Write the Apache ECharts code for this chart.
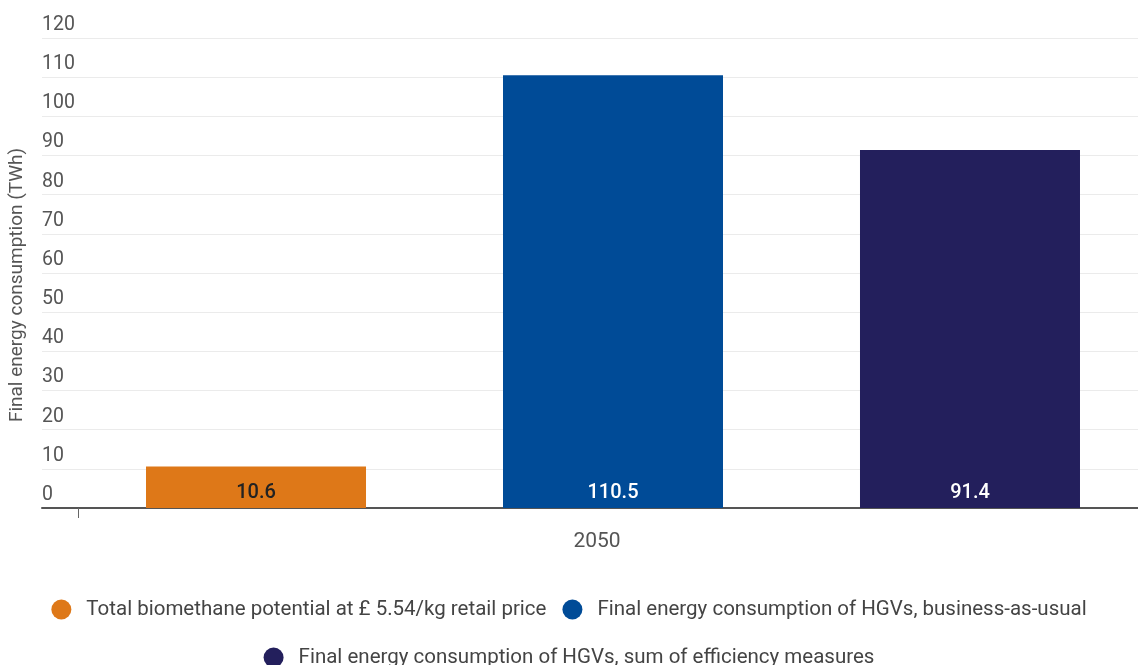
<!DOCTYPE html>
<html>
<head>
<meta charset="utf-8">
<script src="https://cdn.jsdelivr.net/npm/echarts@6/dist/echarts.min.js"></script>
<style>html,body{margin:0;padding:0;background:#fff;}#c{width:1138px;height:665px;}</style>
</head>
<body>
<div id="c"></div>
<script>
const categories = ['2050'];
const seriesNames = [
  'Total biomethane potential at £ 5.54/kg retail price',
  'Final energy consumption of HGVs, business-as-usual',
  'Final energy consumption of HGVs, sum of efficiency measures'
];
const biomethane = [10.6];
const bau = [110.5];
const efficiency = [91.4];
const colors = ['#DE7818', '#004B97', '#231F5C'];
const labelColors = ['#222222', '#ffffff', '#ffffff'];
const yAxisName = 'Final energy consumption (TWh)';

const font = 'Roboto, "Noto Sans", sans-serif';
const chart = echarts.init(document.getElementById('c'));
const values = [biomethane, bau, efficiency];
const legendText = { color: '#444', fontSize: 20.5, fontFamily: font, padding: [0, 0, 0, 10] };
chart.setOption({
  animation: false,
  textStyle: { fontFamily: font },
  grid: [
    { left: 42, right: 0, top: 38, bottom: 157, containLabel: false },
    { left: 78, right: 0, top: 38, bottom: 157, containLabel: false },
    { left: 88, right: 0, top: 38, bottom: 157, containLabel: false }
  ],
  xAxis: [
    { type: 'category', gridIndex: 0, data: categories,
      axisLine: { show: true, lineStyle: { color: '#555', width: 2 } },
      axisTick: { show: false }, axisLabel: { show: false } },
    { type: 'category', gridIndex: 1, data: categories,
      axisLine: { show: false },
      axisTick: { show: true, length: 10, lineStyle: { color: '#666', width: 1 } },
      axisLabel: { show: true, color: '#555', fontSize: 21, fontFamily: font, margin: 23, padding: [0, 22, 0, 0] } },
    { type: 'category', gridIndex: 2, data: categories,
      axisLine: { show: false }, axisTick: { show: false }, axisLabel: { show: false } }
  ],
  yAxis: [
    { type: 'value', gridIndex: 0, min: 0, max: 120, interval: 10,
      name: yAxisName, nameLocation: 'middle', nameGap: 15,
      nameTextStyle: { color: '#555', fontSize: 19, fontFamily: font, padding: [0, 24, 0, 0] },
      axisLine: { show: false }, axisTick: { show: false },
      axisLabel: { inside: true, margin: 0, color: '#555', fontSize: 19.5, fontFamily: font,
        verticalAlign: 'bottom', padding: [0, 0, 3, 0] },
      splitLine: { show: true, lineStyle: { color: '#ebebeb', width: 1 } } },
    { type: 'value', gridIndex: 1, min: 0, max: 120, interval: 10, show: false,
      splitLine: { show: false } },
    { type: 'value', gridIndex: 2, min: 0, max: 120, interval: 10, show: false,
      splitLine: { show: false } }
  ],
  legend: [
    { data: [seriesNames[0], seriesNames[1]], left: 'center', top: 594,
      icon: 'circle', itemWidth: 20, itemHeight: 20, itemGap: 16, textStyle: legendText },
    { data: [seriesNames[2]], left: 'center', top: 642,
      icon: 'circle', itemWidth: 20, itemHeight: 20, itemGap: 16, textStyle: legendText }
  ],
  series: seriesNames.map((n, i) => ({
    name: n, type: 'bar', xAxisIndex: 2, yAxisIndex: 2,
    data: values[i], barWidth: 220, barGap: '62.27%',
    itemStyle: { color: colors[i] },
    label: { show: true, position: 'insideBottom', distance: 5, color: labelColors[i],
      fontSize: 20, fontWeight: 500, fontFamily: font,
      formatter: p => p.value.toFixed(1) }
  }))
});
</script>
</body>
</html>
